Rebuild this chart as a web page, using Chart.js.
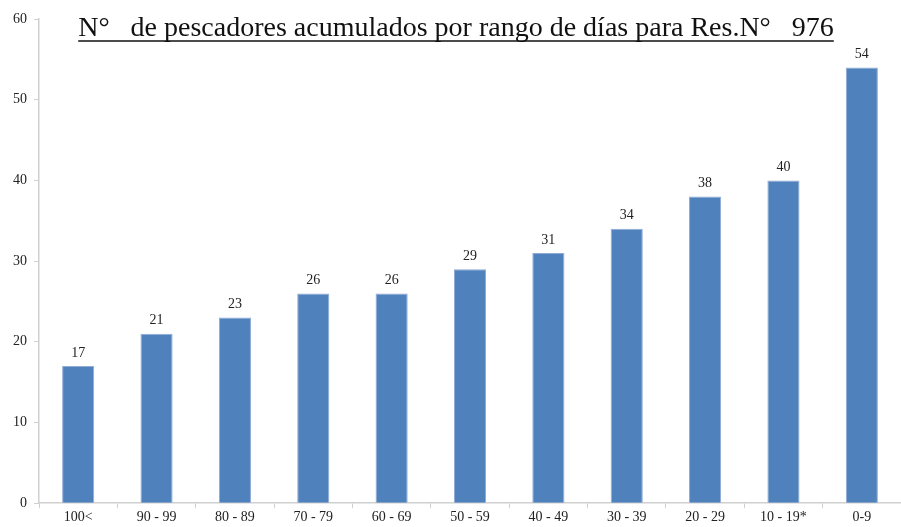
<!DOCTYPE html>
<html>
<head>
<meta charset="utf-8">
<script src="https://cdn.jsdelivr.net/npm/chart.js@4/dist/chart.umd.min.js"></script>
<style>
  html, body { margin: 0; padding: 0; background: #fff; }
  #wrap { width: 901px; height: 527px; position: relative; }
</style>
</head>
<body>
<div id="wrap"><canvas id="chart"></canvas></div>
<script>
const titleText = 'N°   de pescadores acumulados por rango de días para Res.N°   976';
const categories = ['100<', '90 - 99', '80 - 89', '70 - 79', '60 - 69', '50 - 59', '40 - 49', '30 - 39', '20 - 29', '10 - 19*', '0-9'];
const pescadores = [17, 21, 23, 26, 26, 29, 31, 34, 38, 40, 54];
const yTicks = [0, 10, 20, 30, 40, 50, 60];

const serif = '"Liberation Serif", "DejaVu Serif", serif';

// titulo subrayado dentro del area del grafico
const titlePlugin = {
    id: 'underlinedTitle',
    afterDraw(chart) {
        const c = chart.ctx;
        c.save();
        c.font = '28px ' + serif;
        c.fillStyle = '#111';
        c.textAlign = 'center';
        c.textBaseline = 'alphabetic';
        const x = 456, y = 36;
        c.fillText(titleText, x, y);
        const w = c.measureText(titleText).width;
        c.strokeStyle = '#111';
        c.lineWidth = 1.4;
        c.beginPath();
        c.moveTo(x - w / 2, y + 5);
        c.lineTo(x + w / 2, y + 5);
        c.stroke();
        c.restore();
    }
};

// etiquetas de valor sobre cada barra
const valueLabels = {
    id: 'valueLabels',
    afterDatasetsDraw(chart) {
        const c = chart.ctx;
        const meta = chart.getDatasetMeta(0);
        c.save();
        c.font = '14px ' + serif;
        c.fillStyle = '#222';
        c.textAlign = 'center';
        c.textBaseline = 'bottom';
        meta.data.forEach((bar, i) => {
            c.fillText(String(pescadores[i]), bar.x, bar.y - 6);
        });
        c.restore();
    }
};

new Chart(document.getElementById('chart'), {
    type: 'bar',
    data: {
        labels: categories,
        datasets: [{
            data: pescadores,
            backgroundColor: '#4F81BD',
            borderColor: '#8EAAD6',
            borderWidth: 1,
            barPercentage: 0.41,
            categoryPercentage: 1
        }]
    },
    options: {
        responsive: true,
        maintainAspectRatio: false,
        animation: false,
        layout: { padding: { top: 19, right: 0, left: 6, bottom: 0 } },
        plugins: {
            legend: { display: false },
            tooltip: { enabled: false }
        },
        scales: {
            x: {
                grid: { display: true, drawOnChartArea: false, color: '#d0d0d0', tickLength: 5 },
                border: { color: '#d0d0d0', width: 1.5 },
                ticks: { color: '#222', font: { family: serif, size: 14 }, padding: 1, maxRotation: 0, autoSkip: false }
            },
            y: {
                min: 0,
                max: 60,
                afterBuildTicks: axis => { axis.ticks = yTicks.map(v => ({ value: v })); },
                grid: { display: true, drawOnChartArea: false, color: '#d0d0d0', tickLength: 5 },
                border: { color: '#d0d0d0', width: 1.5 },
                ticks: { color: '#222', font: { family: serif, size: 14 }, padding: 7 }
            }
        }
    },
    plugins: [titlePlugin, valueLabels]
});
</script>
</body>
</html>
